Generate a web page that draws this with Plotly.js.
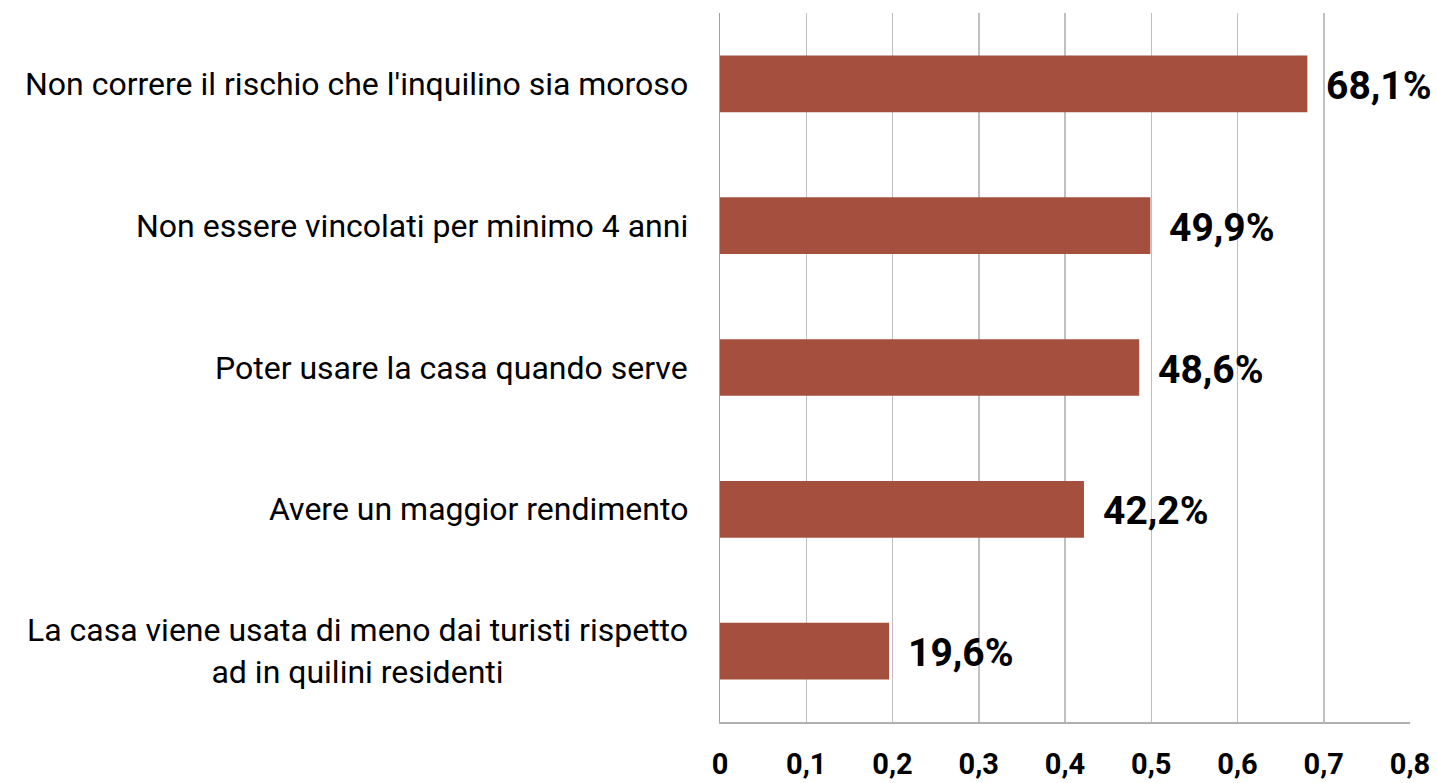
<!DOCTYPE html>
<html>
<head>
<meta charset="utf-8">
<script src="https://cdn.plot.ly/plotly-3.0.1.min.js"></script>
<style>html,body{margin:0;padding:0;background:#fff;}</style>
</head>
<body>
<div id="chart" style="width:1437px;height:783px;"></div>
<script>
const categories = [
  "Non correre il rischio che l'inquilino sia moroso",
  "Non essere vincolati per minimo 4 anni",
  "Poter usare la casa quando serve",
  "Avere un maggior rendimento",
  "La casa viene usata di meno dai turisti rispetto<br>ad in quilini residenti"
];
const values = [0.681, 0.499, 0.486, 0.422, 0.196];
const valueLabels = ["68,1%", "49,9%", "48,6%", "42,2%", "19,6%"];
const tickVals = [0, 0.1, 0.2, 0.3, 0.4, 0.5, 0.6, 0.7, 0.8];
const tickText = ["0", "0,1", "0,2", "0,3", "0,4", "0,5", "0,6", "0,7", "0,8"];

const trace = {
  type: 'bar',
  orientation: 'h',
  x: values,
  y: categories,
  marker: {color: '#A5503F'},
  hoverinfo: 'none'
};

const annotations = [];
categories.forEach((c, i) => {
  annotations.push({
    xref: 'paper', yref: 'y', x: 0, y: c, text: c,
    xanchor: 'right', yanchor: 'middle', xshift: -30, align: 'center',
    showarrow: false,
    font: {family: 'Roboto', size: 32, color: '#000'}
  });
  annotations.push({
    xref: 'x', yref: 'y', x: values[i], y: c, text: '<b>' + valueLabels[i] + '</b>',
    xanchor: 'left', yanchor: 'middle', xshift: 17, yshift: -2,
    showarrow: false,
    font: {family: 'Roboto', size: 39, color: '#000'}
  });
});

const layout = {
  width: 1437, height: 783,
  margin: {l: 720, r: 27, t: 13, b: 61},
  paper_bgcolor: '#fff', plot_bgcolor: '#fff',
  separators: ',.',
  showlegend: false,
  bargap: 0.6,
  xaxis: {
    range: [0, 0.8],
    tickvals: tickVals, ticktext: tickText,
    showgrid: true, gridcolor: '#c0c0c0', gridwidth: 1.5,
    showline: true, linecolor: '#b0b0b0', linewidth: 1.5,
    zeroline: false,
    ticks: '',
    ticklabelstandoff: 16,
    tickfont: {family: 'Roboto', size: 29, color: '#000', weight: 'bold'}
  },
  yaxis: {
    autorange: 'reversed',
    showticklabels: false,
    showgrid: false, zeroline: false,
    showline: true, linecolor: '#a0a0a0', linewidth: 1.5,
    ticks: ''
  },
  annotations: annotations
};

Plotly.newPlot('chart', [trace], layout, {displayModeBar: false, staticPlot: true});
</script>
</body>
</html>
